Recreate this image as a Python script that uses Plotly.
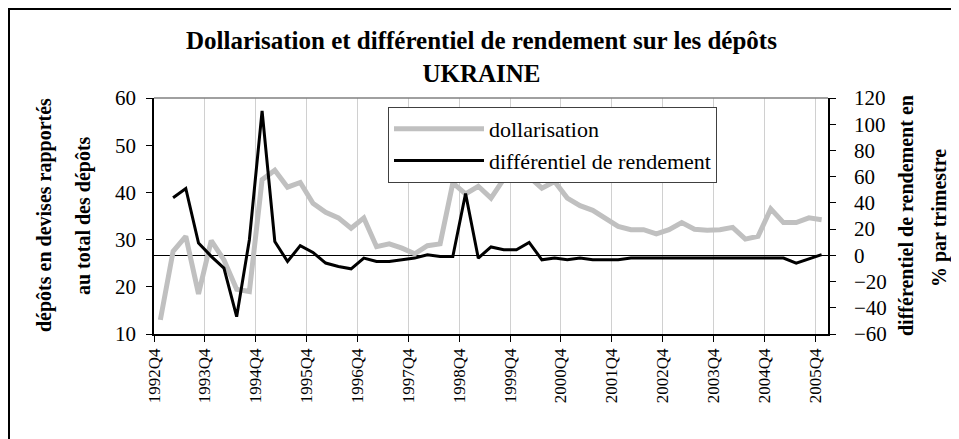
import plotly.graph_objects as go

# Quarterly data 1992Q4 .. 2005Q4 (53 quarters)
quarters = [f"{y}Q{q}" for y in range(1992, 2006) for q in range(1, 5)][3:]
dollarisation = [13.0, 27.5, 30.7, 18.5, 29.8, 25.7, 19.5, 19.0, 42.7, 44.7,
                 41.1, 42.1, 37.7, 35.8, 34.6, 32.4, 34.6, 28.5, 29.1, 28.2,
                 27.0, 28.7, 29.1, 42.0, 39.7, 41.3, 38.8, 42.8, 44.2, 43.3,
                 40.9, 42.3, 38.8, 37.2, 36.2, 34.4, 32.8, 32.1, 32.1, 31.2,
                 32.1, 33.6, 32.2, 32.0, 32.1, 32.6, 30.1, 30.7, 36.5, 33.6,
                 33.6, 34.6, 34.2]
differentiel = [None, 43.9, 51.0, 9.4, -0.8, -9.7, -46.8, 11.9, 110.2, 10.6,
                -4.7, 7.4, 2.2, -5.9, -8.5, -10.3, -2.1, -4.7, -4.7, -3.4,
                -2.1, 0.5, -0.8, -0.8, 47.2, -2.1, 6.4, 4.3, 4.3, 9.9,
                -3.4, -2.1, -3.4, -2.1, -3.4, -3.4, -3.4, -2.1, -2.1, -2.1,
                -2.1, -2.1, -2.1, -2.1, -2.1, -2.1, -2.1, -2.1, -2.1, -2.1,
                -5.9, -2.8, 0.5]
tick_labels = [f"{y}Q4" for y in range(1992, 2006)]
left_ticks = [10, 20, 30, 40, 50, 60]
right_ticks = [-60, -40, -20, 0, 20, 40, 60, 80, 100, 120]

n = len(quarters)
xpos = [i + 0.5 for i in range(n)]
tickpos = [quarters.index(t) for t in tick_labels]

FONT = "Liberation Serif"
OFF = 8  # page offset of the figure (body margin)

W, H = 959, 439
# plot area in page coordinates: x 154..828, y 98..334
L = 154 - OFF
T = 98 - OFF
R = W - (828 - OFF)
B = H - (334 - OFF)
pw, ph = W - L - R, H - T - B


def px(x):
    return (x - OFF - L) / pw


def py(y):
    return (H - B - (y - OFF)) / ph


fig = go.Figure()
fig.add_trace(go.Scatter(x=xpos, y=dollarisation, mode="lines", name="dollarisation",
                         line=dict(color="#c0c0c0", width=5), yaxis="y"))
fig.add_trace(go.Scatter(x=xpos, y=differentiel, mode="lines",
                         name="différentiel de rendement",
                         line=dict(color="#000000", width=3), yaxis="y2"))

fig.update_layout(
    width=W, height=H,
    margin=dict(l=L, r=R, t=T, b=B),
    paper_bgcolor="white", plot_bgcolor="white",
    font=dict(family=FONT, color="black", size=20),
    showlegend=True,
    legend=dict(x=px(388), y=py(107), xanchor="left", yanchor="top",
                bgcolor="white", bordercolor="#404040", borderwidth=1,
                font=dict(family=FONT, size=22, color="black"), tracegroupgap=0,
                itemwidth=90),
    xaxis=dict(range=[0, n], tickmode="array", tickvals=tickpos, ticktext=tick_labels,
               tickangle=-90, tickfont=dict(family=FONT, size=17, color="black"),
               ticks="outside", ticklen=6,
               tickcolor="black", showline=True, linecolor="black", linewidth=1.5,
               showgrid=True, gridcolor="#d0d0d0", gridwidth=1, zeroline=False),
    yaxis=dict(range=[10, 60], tickvals=left_ticks, ticks="outside", ticklen=6,
               tickfont=dict(family=FONT, size=21, color="black"),
               tickcolor="black", showline=True, linecolor="black", linewidth=1.5,
               showgrid=False, zeroline=False, ticklabelstandoff=6),
    yaxis2=dict(range=[-60, 120], tickvals=right_ticks, overlaying="y", side="right",
                tickfont=dict(family=FONT, size=21, color="black"),
                ticks="outside", ticklen=6, tickcolor="black", showline=True,
                linecolor="black", linewidth=1.5, showgrid=False,
                zeroline=True, zerolinecolor="black", zerolinewidth=1,
                ticklabelstandoff=14),
    shapes=[
        dict(type="line", xref="paper", yref="paper", x0=0, x1=1, y0=1, y1=1,
             line=dict(color="#808080", width=1.5)),
        dict(type="rect", xref="paper", yref="paper", x0=px(9), x1=px(990),
             y0=py(470), y1=py(9), line=dict(color="black", width=2)),
    ],
    annotations=[
        dict(text="<b>Dollarisation et différentiel de rendement sur les dépôts</b><br><b>UKRAINE</b>",
             xref="paper", yref="paper", x=px(481), y=py(25), xanchor="center", yanchor="top",
             showarrow=False, font=dict(family=FONT, size=25)),
        dict(text="<b>dépôts en devises rapportés</b>", xref="paper", yref="paper",
             x=px(44), y=py(215), textangle=-90, showarrow=False,
             xanchor="center", yanchor="middle", font=dict(family=FONT, size=20)),
        dict(text="<b>au total des dépôts</b>", xref="paper", yref="paper",
             x=px(83), y=py(216), textangle=-90, showarrow=False,
             xanchor="center", yanchor="middle", font=dict(family=FONT, size=20)),
        dict(text="<b>différentiel de rendement en</b>", xref="paper", yref="paper",
             x=px(906), y=py(216), textangle=-90, showarrow=False,
             xanchor="center", yanchor="middle", font=dict(family=FONT, size=20)),
        dict(text="<b>% par trimestre</b>", xref="paper", yref="paper",
             x=px(939), y=py(218), textangle=-90, showarrow=False,
             xanchor="center", yanchor="middle", font=dict(family=FONT, size=20)),
    ],
)

fig.write_html("out.html")
